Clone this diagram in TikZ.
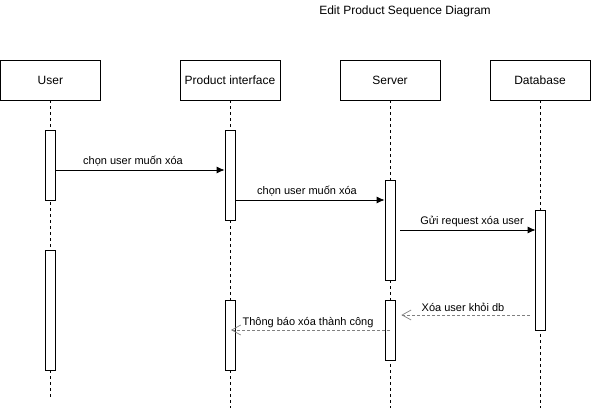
\documentclass[tikz,border=0pt]{standalone}
\usepackage{fontspec}
\setmainfont{Liberation Sans}
\usetikzlibrary{arrows.meta}
\begin{document}
\begin{tikzpicture}[x=1pt,y=-1pt,
  head/.style={draw,line width=0.8pt,minimum width=100pt,minimum height=40pt,inner sep=0pt,font=\fontsize{12}{14}\selectfont},
  bar/.style={draw,fill=white,line width=0.8pt,minimum width=10pt,inner sep=0pt},
  life/.style={dash pattern=on 3pt off 3pt,line width=0.7pt},
  msg/.style={-{Latex[length=8pt,width=7pt]},line width=0.8pt},
  ret/.style={-{Straight Barb[length=9pt,width=10pt,line width=0.7pt]},dash pattern=on 3pt off 2pt,draw=gray,line width=0.8pt},
  lbl/.style={font=\fontsize{11}{13}\selectfont,inner sep=1pt}
]
\useasboundingbox (0,0) rectangle (591,411);
\node[font=\fontsize{12}{14}\selectfont] (title) at (405,11) {Edit Product Sequence Diagram};
% heads
\node[head] (user) at (50.4,80) {User};
\node[head] (pi) at (230,80) {Product interface};
\node[head] (srv) at (390,80) {Server};
\node[head] (db) at (540,80) {Database};
% lifeline ends
\coordinate (ue) at (50,398);
\coordinate (pe) at (230,408);
\coordinate (se) at (390,408);
\coordinate (de) at (540,408);
\draw[life] (user.south) -- (user.south |- ue);
\draw[life] (pi.south) -- (pi.south |- pe);
\draw[life] (srv.south) -- (srv.south |- se);
\draw[life] (db.south) -- (db.south |- de);
% activation bars
\node[bar,minimum height=70pt] (ub1) at (50,165) {};
\node[bar,minimum height=120pt] (ub2) at (50,310) {};
\node[bar,minimum height=90pt] (pb1) at (230,175) {};
\node[bar,minimum height=70pt] (pb2) at (230,335) {};
\node[bar,minimum height=100pt] (sb1) at (390,230) {};
\node[bar,minimum height=60pt] (sb2) at (390,330) {};
\node[bar,minimum height=120pt] (db1) at (540,270) {};
% message levels
\coordinate (m1) at (0,170);
\coordinate (m2) at (0,200);
\coordinate (m3) at (0,230);
\coordinate (m4) at (0,315);
\coordinate (m5) at (0,330);
\draw[msg] (ub1.east |- m1) -- (pb1.west |- m1);
\draw[msg] (pb1.east |- m2) -- (sb1.west |- m2);
\draw[msg] ([xshift=5pt]sb1.east |- m3) -- ([xshift=1pt]db1.west |- m3);
\draw[ret] ([xshift=-5pt]db1.west |- m4) -- ([xshift=6pt]sb2.east |- m4);
\draw[ret] (sb2.center |- m5) -- ([xshift=1pt]pb2.center |- m5);
% labels
\node[lbl] (l1) at (133,161) {chọn user muốn xóa};
\node[lbl] (l2) at (307,191) {chọn user muốn xóa};
\node[lbl] (l3) at (472,221) {Gửi request xóa user};
\node[lbl] (l4) at (463,307) {Xóa user khỏi db};
\node[lbl] (l5) at (308,323) {Thông báo xóa thành công};
\end{tikzpicture}
\end{document}
